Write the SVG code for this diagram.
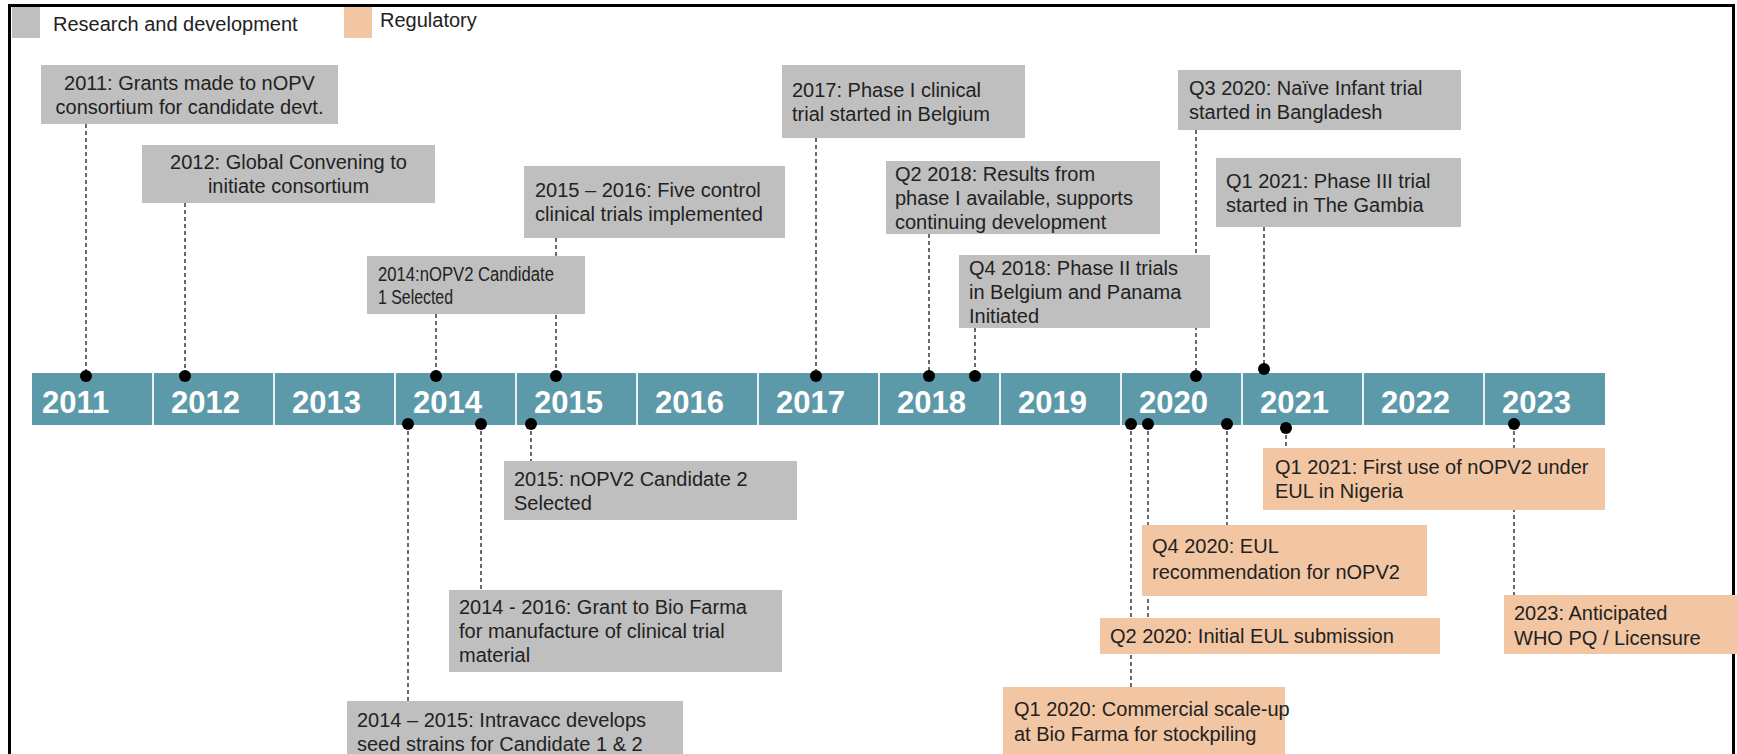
<svg xmlns="http://www.w3.org/2000/svg" width="1737" height="754" viewBox="0 0 1737 754">
<style>
.rd{fill:#bfbfbf}
.reg{fill:#f2c6a2}
.t{font-family:"Liberation Sans",Arial,sans-serif;font-size:20px;fill:#222}
.tc{text-anchor:middle}
.yr{font-family:"Liberation Sans",Arial,sans-serif;font-size:31px;font-weight:bold;fill:#fff}
.conn{stroke:#3a3a3a;stroke-width:1.5;stroke-dasharray:4 3;fill:none}
.dot{fill:#000}
.div{stroke:#e8f0f2;stroke-width:2}
</style>
<rect x="0" y="0" width="1737" height="754" fill="#fff"/>
<rect x="9.5" y="5.5" width="1724" height="800" fill="none" stroke="#000" stroke-width="3"/>
<g id="legend">
<rect class="rd" x="12" y="7" width="28" height="31"/>
<text class="t" x="53" y="31">Research and development</text>
<rect class="reg" x="344" y="7" width="28" height="31"/>
<text class="t" x="380" y="27">Regulatory</text>
</g>
<g id="timeline">
<rect x="32" y="373" width="1573" height="52" fill="#5c9aaa"/>
<g class="div">
<line x1="153" y1="373" x2="153" y2="425"/><line x1="274" y1="373" x2="274" y2="425"/>
<line x1="395" y1="373" x2="395" y2="425"/><line x1="516" y1="373" x2="516" y2="425"/>
<line x1="637" y1="373" x2="637" y2="425"/><line x1="758" y1="373" x2="758" y2="425"/>
<line x1="879" y1="373" x2="879" y2="425"/><line x1="1000" y1="373" x2="1000" y2="425"/>
<line x1="1121" y1="373" x2="1121" y2="425"/><line x1="1242" y1="373" x2="1242" y2="425"/>
<line x1="1363" y1="373" x2="1363" y2="425"/><line x1="1484" y1="373" x2="1484" y2="425"/>
</g>
<text class="yr" x="42" y="413">2011</text>
<text class="yr" x="171" y="413">2012</text>
<text class="yr" x="292" y="413">2013</text>
<text class="yr" x="413" y="413">2014</text>
<text class="yr" x="534" y="413">2015</text>
<text class="yr" x="655" y="413">2016</text>
<text class="yr" x="776" y="413">2017</text>
<text class="yr" x="897" y="413">2018</text>
<text class="yr" x="1018" y="413">2019</text>
<text class="yr" x="1139" y="413">2020</text>
<text class="yr" x="1260" y="413">2021</text>
<text class="yr" x="1381" y="413">2022</text>
<text class="yr" x="1502" y="413">2023</text>
</g>
<g id="connectors">
<line class="conn" x1="86" y1="124" x2="86" y2="376"/>
<line class="conn" x1="185" y1="203" x2="185" y2="376"/>
<line class="conn" x1="556" y1="238" x2="556" y2="376"/>
<line class="conn" x1="436" y1="314" x2="436" y2="376"/>
<line class="conn" x1="816" y1="138" x2="816" y2="376"/>
<line class="conn" x1="929" y1="234" x2="929" y2="376"/>
<line class="conn" x1="975" y1="328" x2="975" y2="376"/>
<line class="conn" x1="1196" y1="130" x2="1196" y2="376"/>
<line class="conn" x1="1264" y1="227" x2="1264" y2="369"/>
<line class="conn" x1="531" y1="424" x2="531" y2="461"/>
<line class="conn" x1="481" y1="424" x2="481" y2="590"/>
<line class="conn" x1="408" y1="424" x2="408" y2="701"/>
<line class="conn" x1="1286" y1="428" x2="1286" y2="448"/>
<line class="conn" x1="1227" y1="424" x2="1227" y2="525"/>
<line class="conn" x1="1148" y1="424" x2="1148" y2="618"/>
<line class="conn" x1="1131" y1="424" x2="1131" y2="687"/>
<line class="conn" x1="1514" y1="424" x2="1514" y2="595"/>
<g class="dot">
<circle cx="86" cy="376" r="6"/><circle cx="185" cy="376" r="6"/>
<circle cx="436" cy="376" r="6"/><circle cx="556" cy="376" r="6"/>
<circle cx="816" cy="376" r="6"/><circle cx="929" cy="376" r="6"/>
<circle cx="975" cy="376" r="6"/><circle cx="1196" cy="376" r="6"/>
<circle cx="1264" cy="369" r="6"/>
<circle cx="408" cy="424" r="6"/><circle cx="481" cy="424" r="6"/>
<circle cx="531" cy="424" r="6"/><circle cx="1131" cy="424" r="6"/>
<circle cx="1148" cy="424" r="6"/><circle cx="1227" cy="424" r="6"/>
<circle cx="1286" cy="428" r="6"/><circle cx="1514" cy="424" r="6"/>
</g>
</g>
<g id="n2011"><rect class="rd" x="41" y="65" width="297" height="59"/>
<text class="t tc" x="189.5" y="90">2011: Grants made to nOPV</text>
<text class="t tc" x="189.5" y="114">consortium for candidate devt.</text></g>
<g id="n2012"><rect class="rd" x="142" y="145" width="293" height="58"/>
<text class="t tc" x="288.5" y="169">2012: Global Convening to</text>
<text class="t tc" x="288.5" y="193">initiate consortium</text></g>
<g id="n2015_2016"><rect class="rd" x="524" y="166" width="261" height="72"/>
<text class="t" x="535" y="197">2015 – 2016: Five control</text>
<text class="t" x="535" y="221">clinical trials implemented</text></g>
<g id="n2014c1"><rect class="rd" x="367" y="256" width="218" height="58"/>
<text class="t" x="378" y="281" textLength="176" lengthAdjust="spacingAndGlyphs">2014:nOPV2 Candidate</text>
<text class="t" x="378" y="304" textLength="75" lengthAdjust="spacingAndGlyphs">1 Selected</text></g>
<g id="n2017"><rect class="rd" x="782" y="65" width="243" height="73"/>
<text class="t" x="792" y="97">2017: Phase I clinical</text>
<text class="t" x="792" y="121">trial started in Belgium</text></g>
<g id="nQ2_2018"><rect class="rd" x="886" y="161" width="274" height="73"/>
<text class="t" x="895" y="180.5">Q2 2018: Results from</text>
<text class="t" x="895" y="204.5">phase I available, supports</text>
<text class="t" x="895" y="228.5">continuing development</text></g>
<g id="nQ4_2018"><rect class="rd" x="959" y="255" width="251" height="73"/>
<text class="t" x="969" y="275">Q4 2018: Phase II trials</text>
<text class="t" x="969" y="299">in Belgium and Panama</text>
<text class="t" x="969" y="323">Initiated</text></g>
<g id="nQ3_2020"><rect class="rd" x="1178" y="70" width="283" height="60"/>
<text class="t" x="1189" y="95">Q3 2020: Naïve Infant trial</text>
<text class="t" x="1189" y="119">started in Bangladesh</text></g>
<g id="nQ1_2021p3"><rect class="rd" x="1216" y="158" width="245" height="69"/>
<text class="t" x="1226" y="187.5">Q1 2021: Phase III trial</text>
<text class="t" x="1226" y="211.5">started in The Gambia</text></g>
<g id="n2015c2"><rect class="rd" x="504" y="461" width="293" height="59"/>
<text class="t" x="514" y="485.5">2015: nOPV2 Candidate 2</text>
<text class="t" x="514" y="509.5">Selected</text></g>
<g id="n2014_2016"><rect class="rd" x="449" y="590" width="333" height="82"/>
<text class="t" x="459" y="614">2014 - 2016: Grant to Bio Farma</text>
<text class="t" x="459" y="638">for manufacture of clinical trial</text>
<text class="t" x="459" y="662">material</text></g>
<g id="n2014_2015"><rect class="rd" x="347" y="701" width="336" height="70"/>
<text class="t" x="357" y="727">2014 – 2015: Intravacc develops</text>
<text class="t" x="357" y="751">seed strains for Candidate 1 &amp; 2</text></g>
<g id="nQ1_2021eul"><rect class="reg" x="1263" y="448" width="342" height="62"/>
<text class="t" x="1275" y="474">Q1 2021: First use of nOPV2 under</text>
<text class="t" x="1275" y="498">EUL in Nigeria</text></g>
<g id="nQ4_2020"><rect class="reg" x="1142" y="525" width="285" height="71"/>
<text class="t" x="1152" y="553">Q4 2020: EUL</text>
<text class="t" x="1152" y="579">recommendation for nOPV2</text></g>
<g id="nQ2_2020"><rect class="reg" x="1100" y="618" width="340" height="36"/>
<text class="t" x="1110" y="643">Q2 2020: Initial EUL submission</text></g>
<g id="nQ1_2020"><rect class="reg" x="1003" y="687" width="282" height="80"/>
<text class="t" x="1014" y="716">Q1 2020: Commercial scale-up</text>
<text class="t" x="1014" y="741">at Bio Farma for stockpiling</text></g>
<g id="n2023"><rect class="reg" x="1504" y="595" width="233" height="59"/>
<text class="t" x="1514" y="620">2023: Anticipated</text>
<text class="t" x="1514" y="645">WHO PQ / Licensure</text></g>
</svg>
